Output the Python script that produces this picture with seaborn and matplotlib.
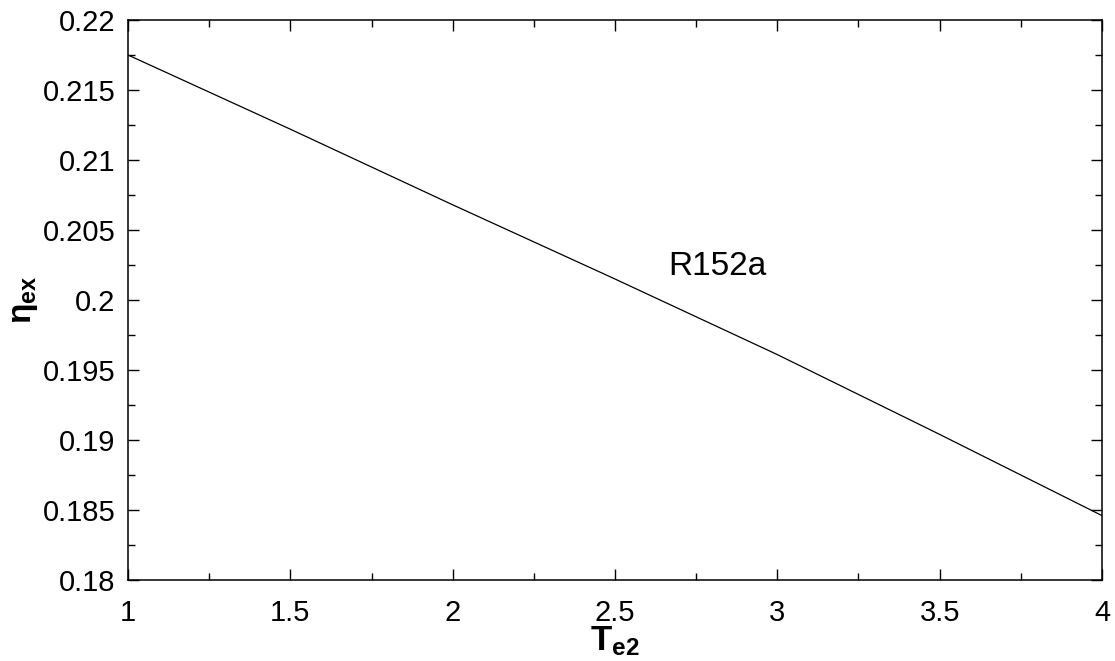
import matplotlib
matplotlib.use("Agg")
import matplotlib.pyplot as plt
import seaborn as sns
import pandas as pd
from matplotlib.ticker import MultipleLocator

# Data
te2 = [1.0, 1.5, 2.0, 2.5, 3.0, 3.5, 4.0]
eta_ex = [0.2175, 0.2122, 0.2068, 0.2015, 0.1961, 0.1904, 0.1846]
x_ticks = [1, 1.5, 2, 2.5, 3, 3.5, 4]
x_tick_labels = ["1", "1.5", "2", "2.5", "3", "3.5", "4"]
y_ticks = [0.18, 0.185, 0.19, 0.195, 0.2, 0.205, 0.21, 0.215, 0.22]
y_tick_labels = ["0.18", "0.185", "0.19", "0.195", "0.2", "0.205", "0.21", "0.215", "0.22"]
series_label = "R152a"

sns.set_theme(style="white")
plt.rcParams["font.family"] = ["Liberation Sans", "DejaVu Sans"]
plt.rcParams["mathtext.fontset"] = "custom"
plt.rcParams["mathtext.rm"] = "Liberation Sans"
plt.rcParams["mathtext.it"] = "Liberation Sans:italic"
plt.rcParams["mathtext.bf"] = "Liberation Sans:bold"

df = pd.DataFrame({"Te2": te2, "eta": eta_ex})

fig = plt.figure(figsize=(11.15, 6.61), dpi=100)
ax = fig.add_axes([128 / 1115, 81 / 661, 974 / 1115, 560 / 661])

sns.lineplot(data=df, x="Te2", y="eta", ax=ax, color="black", linewidth=0.9)

ax.set_xlim(1, 4)
ax.set_ylim(0.18, 0.22)
ax.set_xticks(x_ticks)
ax.set_xticklabels(x_tick_labels)
ax.set_yticks(y_ticks)
ax.set_yticklabels(y_tick_labels)
ax.xaxis.set_minor_locator(MultipleLocator(0.25))
ax.yaxis.set_minor_locator(MultipleLocator(0.0025))

ax.tick_params(which="both", direction="in", top=True, right=True,
               bottom=True, left=True, color="black", width=1.0)
ax.tick_params(which="major", length=8, labelsize=21, labelcolor="black")
ax.tick_params(axis="x", which="major", pad=14)
ax.tick_params(axis="y", which="major", pad=9)
ax.tick_params(which="minor", length=5)

for s in ax.spines.values():
    s.set_color("black")
    s.set_linewidth(1.1)

ax.set_xlabel(r"$\mathbf{T_{e2}}$", fontsize=25, color="black", labelpad=-2)
ax.set_ylabel(r"$\mathbf{\eta_{ex}}$", fontsize=24, color="black", labelpad=2)

ax.text(2.663, 0.2018, series_label, fontsize=24, color="black",
        ha="left", va="baseline")

fig.savefig("out.png", dpi=100)
